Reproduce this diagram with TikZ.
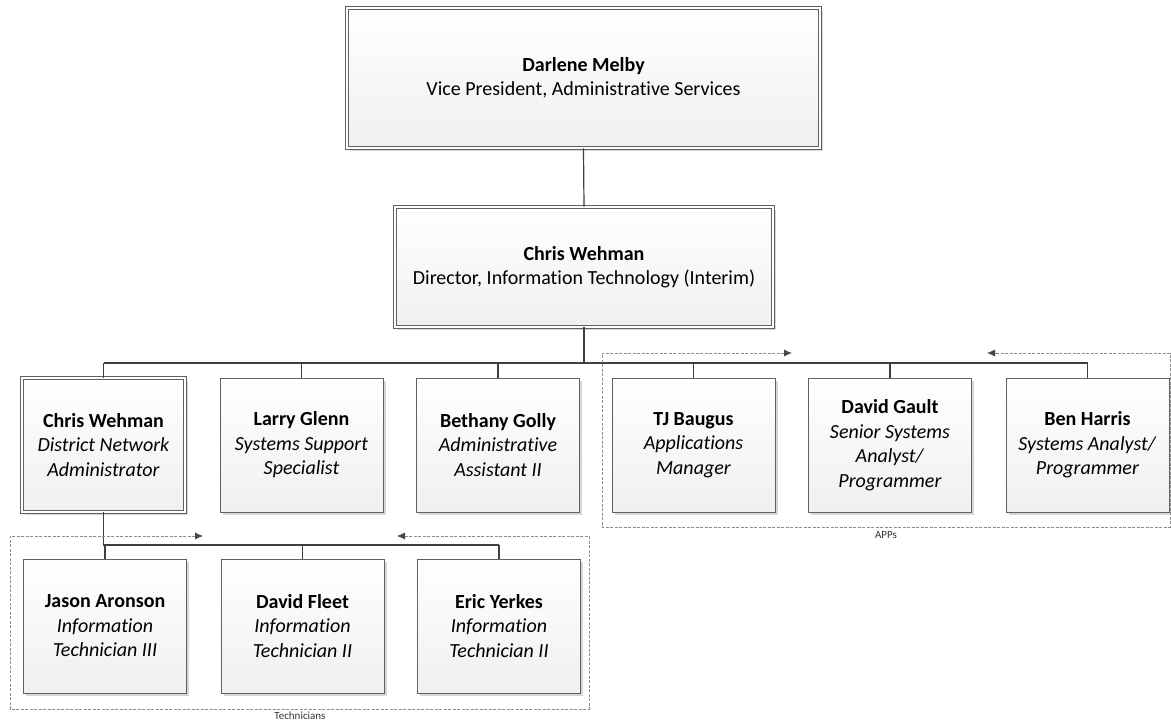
\documentclass[tikz,border=0pt]{standalone}
\usepackage{fontspec}
\setmainfont[Ligatures=NoCommon]{Carlito}
\usetikzlibrary{arrows.meta,shadows}

\tikzset{
        person/.style={draw=black!62, line width=1pt, top color=white, bottom color=black!6,
                minimum width=163pt, minimum height=134pt, align=center, inner sep=2pt,
                drop shadow={shadow xshift=2.5pt, shadow yshift=-2.5pt, fill=black!16, opacity=1},
                font=\fontsize{20}{24.5}\selectfont},
        chief/.style={person, double=white, double distance=2pt, line width=0.8pt},
        trunk/.style={draw=black!75, line width=1.8pt},
        link/.style={draw=black!75, line width=1.2pt},
        grp/.style={draw=black!45, line width=0.8pt, dash pattern=on 3pt off 1.5pt,
                {Latex[length=8pt,width=7pt,color=black!72]}-{Latex[length=8pt,width=7pt,color=black!72]}},
        grplabel/.style={font=\fontsize{11}{13}\selectfont, text=black!80}
}

\begin{document}
\begin{tikzpicture}[x=1pt, y=-1pt]
        \useasboundingbox (0,0) rectangle (1171,721);

        \node[chief, minimum width=473pt, minimum height=140pt] (darlene) at (583.5,78) {\textbf{Darlene Melby}\\Vice President, Administrative Services};
        \node[chief, minimum width=378pt, minimum height=120pt] (director) at (584,267) {\textbf{Chris Wehman}\\Director, Information Technology (Interim)};

        \node[chief] (netadmin) at (103.5,445) {\textbf{Chris Wehman}\\\textit{District Network}\\\textit{Administrator}};
        \node[person] (glenn) at (301.5,445) {\textbf{Larry Glenn}\\\textit{Systems Support}\\\textit{Specialist}};
        \node[person] (golly) at (498,445) {\textbf{Bethany Golly}\\\textit{Administrative}\\\textit{Assistant II}};
        \node[person] (baugus) at (693.5,445) {\textbf{TJ Baugus}\\\textit{Applications}\\\textit{Manager}};
        \node[person] (gault) at (890,445) {\textbf{David Gault}\\\textit{Senior Systems}\\\textit{Analyst/}\\\textit{Programmer}};
        \node[person] (harris) at (1087.5,445) {\textbf{Ben Harris}\\\textit{Systems Analyst/}\\\textit{Programmer}};

        \node[person] (aronson) at (105,626) {\textbf{Jason Aronson}\\\textit{Information}\\\textit{Technician III}};
        \node[person] (fleet) at (302.5,626) {\textbf{David Fleet}\\\textit{Information}\\\textit{Technician II}};
        \node[person] (yerkes) at (499,626) {\textbf{Eric Yerkes}\\\textit{Information}\\\textit{Technician II}};

        \draw[link] (darlene.south) -- (director.north);

        \coordinate (hub) at (director.south |- 0,363);
        \draw[trunk] (director.south) -- (hub);
        \draw[trunk] (netadmin.north |- hub) -- (harris.north |- hub);
        \foreach \n in {netadmin,glenn,golly,baugus,gault,harris}
                \draw[link] (\n.north |- hub) -- (\n.north);

        \coordinate (techhub) at (netadmin.south |- 0,545);
        \draw[trunk] (netadmin.south) -- (techhub) -- (yerkes.north |- techhub);
        \foreach \n in {aronson,fleet,yerkes}
                \draw[link] (\n.north |- techhub) -- (\n.north);

        \draw[grp] (792,353) -- (602,353) -- (602,527) -- (1170,527) -- (1170,353) -- (987,353);
        \node[grplabel] (appslabel) at (886,535) {APPs};

        \draw[grp] (203,536) -- (10,536) -- (10,709) -- (589,709) -- (589,536) -- (397,536);
        \node[grplabel] (techlabel) at (300,716) {Technicians};
\end{tikzpicture}
\end{document}
